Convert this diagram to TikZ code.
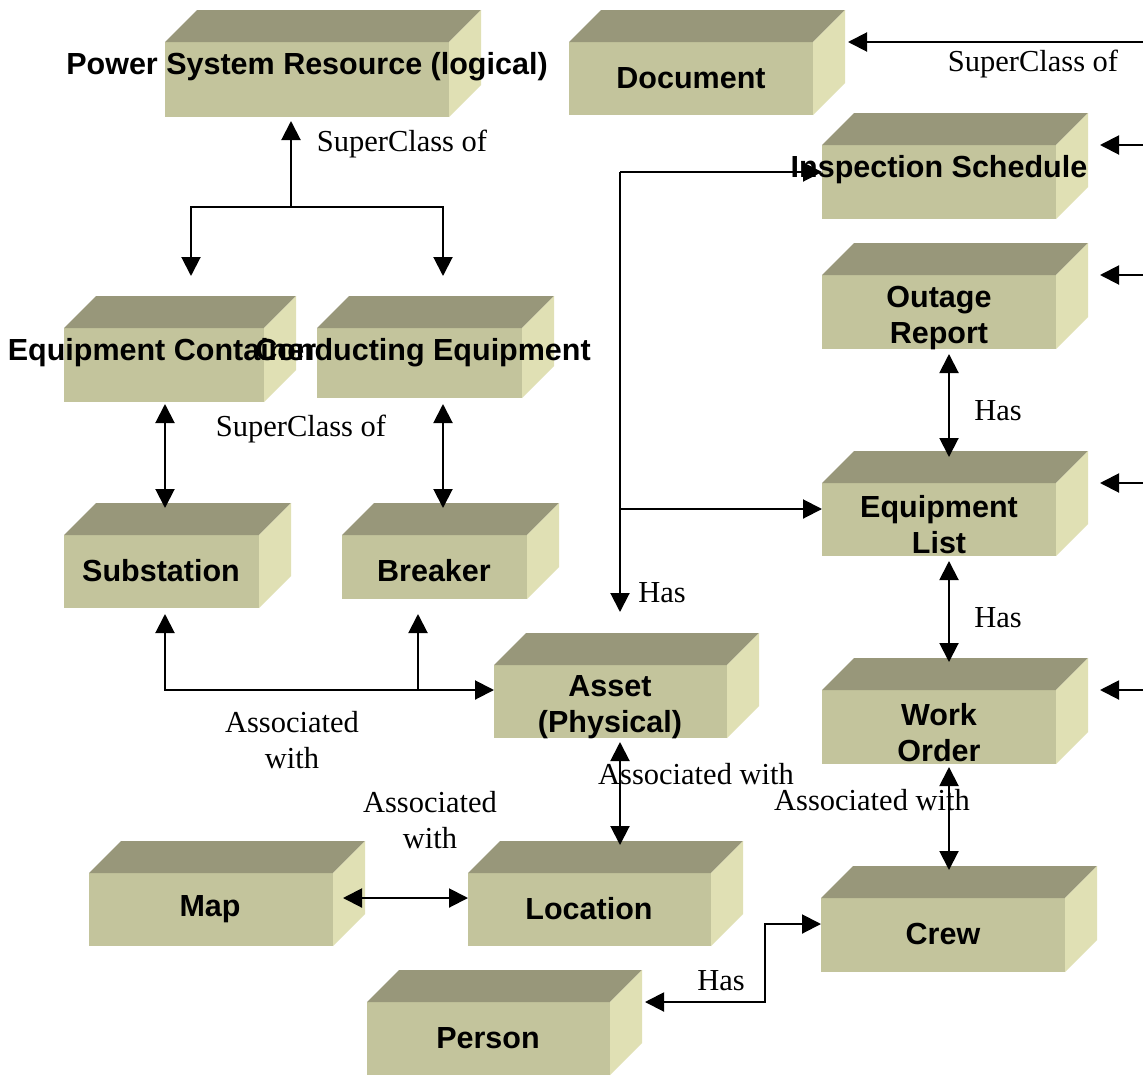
\documentclass[tikz,border=0pt]{standalone}
\usepackage{fontspec}
\setmainfont{Liberation Serif}
\newfontfamily\boxsans{Liberation Sans}
\usetikzlibrary{arrows.meta,calc,fit}

\definecolor{cubetop}{HTML}{98977A}
\definecolor{cubefront}{HTML}{C3C49C}
\definecolor{cubeside}{HTML}{E0E0B4}

\tikzset{
  cubeface/.style={fill=cubefront, draw=none, inner sep=0pt, outer sep=0pt},
  cubelabel/.style={font=\boxsans\bfseries\fontsize{30.5}{36}\selectfont, align=center, inner sep=0pt},
  rellabel/.style={font=\fontsize{30.5}{36}\selectfont, align=center, inner sep=0pt},
  link/.style={line width=2pt, draw=black},
  tipend/.style={link, -{Triangle[length=19pt,width=19pt]}},
  tipboth/.style={link, {Triangle[length=19pt,width=19pt]}-{Triangle[length=19pt,width=19pt]}},
}

% a solid block: name, front face corners (x1,y1) (x2,y2); depth 32
\newcommand\cubebox[5]{%
  \node[cubeface, fit={(#2,#3) (#4,#5)}] (#1) {};
  \fill[cubetop] (#1.north west) -- ++(32,-32) -- ++({#4-#2},0) -- (#1.north east) -- cycle;
  \fill[cubeside] (#1.north east) -- ++(32,-32) -- ++(0,{#5-#3}) -- (#1.south east) -- cycle;
}

\begin{document}
\begin{tikzpicture}[x=1pt, y=-1pt]
\fill[white] (0,0) rectangle (1143,1076);
\useasboundingbox (0,0) rectangle (1143,1076);

% blocks
\cubebox{psr}{165}{42}{449}{117}
\cubebox{doc}{569}{42}{813}{115}
\cubebox{insp}{822}{145}{1056}{219}
\cubebox{out}{822}{275}{1056}{349}
\cubebox{eql}{822}{483}{1056}{556}
\cubebox{wo}{822}{690}{1056}{764}
\cubebox{crew}{821}{898}{1065}{972}
\cubebox{ec}{64}{328}{264}{402}
\cubebox{ce}{317}{328}{522}{398}
\cubebox{sub}{64}{535}{259}{608}
\cubebox{brk}{342}{535}{527}{599}
\cubebox{asset}{494}{665}{727}{738}
\cubebox{map}{89}{873}{333}{946}
\cubebox{loc}{468}{873}{711}{946}
\cubebox{per}{367}{1002}{610}{1075}

% junctions and free ends
\coordinate (jsc) at (291,207);
\coordinate (jsa) at (418,690);
\coordinate (jhtop) at (620,172);
\coordinate (jhmid) at (620,509);
\coordinate (jcrew) at (765,924);
\coordinate (edoc) at (1143,42);
\coordinate (einsp) at (1143,145);
\coordinate (eout) at (1143,275);
\coordinate (eeql) at (1143,483);
\coordinate (ewo) at (1143,690);

% superclass tree under the power system resource
\draw[tipend] (jsc) -- ($(psr.south west)+(126,4)$);
\draw[tipend] (jsc) -| ($(ec.north west)+(127,-52)$);
\draw[tipend] (jsc) -| ($(ce.north west)+(126,-52)$);

% containers and equipment
\draw[tipboth] ($(ec.south west)+(101,2)$) -- ($(sub.north west)+(101,-27)$);
\draw[tipboth] ($(ce.south west)+(126,6)$) -- ($(brk.north west)+(101,-27)$);

% substation / breaker to asset
\draw[tipboth] ($(sub.south west)+(101,6)$) |- ($(asset.north west)+(0,25)$);
\draw[tipend] (jsa) -- ($(brk.south west)+(76,15)$);

% asset has documents
\draw[link] (jhmid) -- (jhtop);
\draw[tipend] (jhtop) -- ($(insp.north west)+(0,27)$);
\draw[tipend] (jhmid) -- ($(eql.north west)+(0,26)$);
\draw[tipend] (jhmid) -- ($(asset.north west)+(126,-53)$);

% document chain
\draw[tipboth] ($(out.south west)+(127,5)$) -- ($(eql.north west)+(127,-26)$);
\draw[tipboth] ($(eql.south west)+(127,5)$) -- ($(wo.north west)+(127,-28)$);
\draw[tipboth] ($(wo.south west)+(127,3)$) -- ($(crew.north west)+(128,-28)$);

% asset, location, map
\draw[tipboth] ($(asset.south west)+(126,4)$) -- ($(loc.north west)+(152,-28)$);
\draw[tipboth] ($(map.north east)+(10,25)$) -- ($(loc.north west)+(0,25)$);

% person and crew
\draw[tipboth] ($(per.north east)+(35,0)$) -| (jcrew) -- ($(crew.north west)+(0,26)$);

% superclass arrows entering from the right
\draw[tipend] (edoc) -- ($(doc.north east)+(35,0)$);
\draw[tipend] (einsp) -- ($(insp.north east)+(44,0)$);
\draw[tipend] (eout) -- ($(out.north east)+(44,0)$);
\draw[tipend] (eeql) -- ($(eql.north east)+(44,0)$);
\draw[tipend] (ewo) -- ($(wo.north east)+(44,0)$);

% block titles
\node[cubelabel] (t-psr) at (307,67) {Power System Resource (logical)};
\node[cubelabel] (t-doc) at (691,78) {Document};
\node[cubelabel] (t-insp) at (939,170) {Inspection Schedule};
\node[cubelabel] (t-out) at (939,318) {Outage\\Report};
\node[cubelabel] (t-eql) at (939,525) {Equipment\\List};
\node[cubelabel] (t-wo) at (939,733) {Work\\Order};
\node[cubelabel] (t-crew) at (943,934) {Crew};
\node[cubelabel] (t-ec) at (162,353) {Equipment Container};
\node[cubelabel] (t-ce) at (423,353) {Conducting Equipment};
\node[cubelabel] (t-sub) at (161,571) {Substation};
\node[cubelabel] (t-brk) at (434,571) {Breaker};
\node[cubelabel] (t-asset) at (610,707) {Asset\\(Physical)};
\node[cubelabel] (t-map) at (210,909) {Map};
\node[cubelabel] (t-loc) at (589,909) {Location};
\node[cubelabel] (t-per) at (488,1038) {Person};

% relation labels
\node[rellabel] (r-sc1) at (1033,64) {SuperClass of};
\node[rellabel] (r-sc2) at (402,144) {SuperClass of};
\node[rellabel] (r-sc3) at (301,429) {SuperClass of};
\node[rellabel] (r-has1) at (662,593) {Has};
\node[rellabel] (r-has2) at (998,411) {Has};
\node[rellabel] (r-has3) at (998,618) {Has};
\node[rellabel] (r-has4) at (721,981) {Has};
\node[rellabel] (r-aw1) at (292,740) {Associated\\with};
\node[rellabel] (r-aw2) at (430,820) {Associated\\with};
\node[rellabel] (r-aw3) at (696,774) {Associated with};
\node[rellabel] (r-aw4) at (872,800) {Associated with};
\end{tikzpicture}
\end{document}
